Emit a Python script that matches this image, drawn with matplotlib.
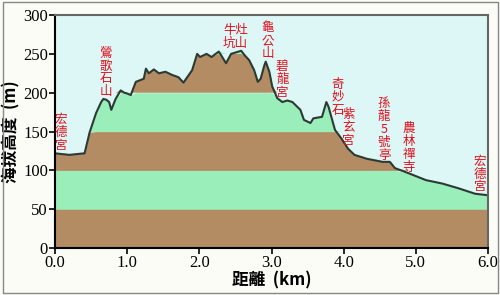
import numpy as np
import matplotlib
matplotlib.use("Agg")
import matplotlib.pyplot as plt
from matplotlib.patches import Rectangle

# 剖面資料 (距離 km, 海拔 m)
dist_km = [0.00, 0.10, 0.20, 0.30, 0.41, 0.48, 0.57, 0.64, 0.67, 0.71, 0.75, 0.78,
           0.84, 0.91, 0.96, 1.00, 1.05, 1.12, 1.23, 1.26, 1.30, 1.37, 1.44, 1.53,
           1.62, 1.71, 1.78, 1.90, 1.97, 2.01, 2.10, 2.17, 2.27, 2.37, 2.44, 2.51,
           2.58, 2.63, 2.69, 2.76, 2.81, 2.85, 2.90, 2.92, 2.97, 3.01, 3.08, 3.15,
           3.22, 3.29, 3.40, 3.45, 3.54, 3.58, 3.70, 3.76, 3.79, 3.88, 3.97, 4.06,
           4.15, 4.32, 4.54, 4.64, 4.71, 4.91, 5.14, 5.37, 5.59, 5.82, 6.00]
elev_m = [122, 121, 120, 121, 122, 149, 174, 188, 192, 191, 188, 178,
          192, 203, 200, 199, 197, 214, 218, 231, 225, 230, 225, 227,
          223, 220, 213, 229, 250, 246, 250, 246, 253, 238, 250, 252,
          254, 248, 242, 229, 214, 218, 235, 240, 227, 208, 193, 188,
          190, 188, 178, 165, 161, 167, 169, 188, 182, 152, 141, 128,
          120, 115, 111, 111, 103, 96, 87.5, 83, 77, 70, 68]

# 地標 (名稱, 距離, 文字頂端高度)
place_names = ["宏德宮", "鶯歌石山", "牛灶\n坑山", "龜公山", "碧龍宮", "奇妙石",
               "紫玄宮", "孫龍5號亭", "農林禪寺", "宏德宮"]
place_km = [0.08, 0.70, 2.50, 2.95, 3.15, 3.92, 4.07, 4.56, 4.90, 5.89]
place_top = [174, 259, 288, 292, 242, 219, 180, 194, 162, 120]
place_vertical = [True, True, False, True, True, True, True, True, True, True]

x_ticks = [0, 1, 2, 3, 4, 5, 6]
y_ticks = [0, 50, 100, 150, 200, 250, 300]

sky = "#dcf7f5"
brown = "#b38c64"
green = "#9aeeba"

fig = plt.figure(figsize=(5, 2.95), dpi=100, facecolor="#fcfcf6")
ax = fig.add_axes([0.11, 0.159, 0.866, 0.79])
ax.set_facecolor(sky)

x = np.array(dist_km)
y = np.array(elev_m)
# 每 50 m 一層色帶
for i, lo in enumerate(range(0, 300, 50)):
    hi = lo + 50
    col = brown if i % 2 == 0 else green
    ax.fill_between(x, lo, np.clip(y, lo, hi), where=y > lo, color=col,
                    linewidth=0, interpolate=True)
ax.plot(x, y, color="#2b3a33", linewidth=1.5)

for name, km, top, vert in zip(place_names, place_km, place_top, place_vertical):
    txt = "\n".join(name) if vert else name
    ax.text(km, top, txt, color="#e0101e", fontsize=9, ha="center", va="top",
            linespacing=0.98, family=["Noto Sans CJK TC", "DejaVu Sans"])

ax.set_xlim(0, 6)
ax.set_ylim(0, 300)
ax.set_xticks(x_ticks)
ax.set_xticklabels([f"{t:.1f}" for t in x_ticks])
ax.set_yticks(y_ticks)
for lab in ax.get_xticklabels() + ax.get_yticklabels():
    lab.set_family("Liberation Serif")
    lab.set_fontsize(12)
ax.tick_params(direction="out", length=4, width=1.2, pad=1)

ax.spines["left"].set_linewidth(1.5)
ax.spines["bottom"].set_linewidth(1.5)
for s in ["top", "right"]:
    ax.spines[s].set_color("#666666")
    ax.spines[s].set_linewidth(1.5)

ax.set_xlabel("距離  (km)", fontsize=12, fontweight="bold", labelpad=0,
              family=["Noto Sans CJK TC", "DejaVu Sans"])
ax.set_ylabel("海拔高度  (m)", fontsize=12, fontweight="bold", labelpad=2,
              family=["Noto Sans CJK TC", "DejaVu Sans"])

# 外框
fig.patches.append(Rectangle((0.005, 0.008), 0.99, 0.984, transform=fig.transFigure,
                             fill=False, edgecolor="#888888", linewidth=1))

fig.savefig("out.png", dpi=100, facecolor=fig.get_facecolor())
